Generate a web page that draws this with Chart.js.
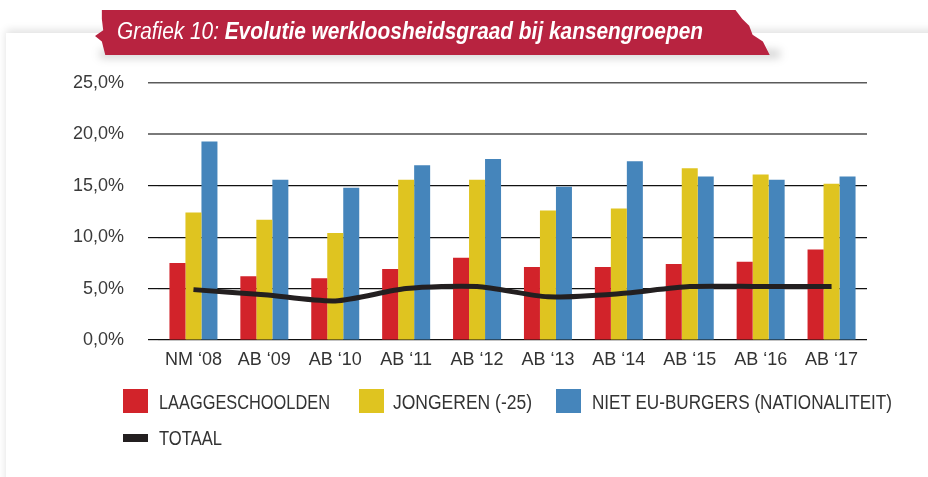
<!DOCTYPE html>
<html>
<head>
<meta charset="utf-8">
<script src="https://cdn.jsdelivr.net/npm/chart.js@4.4.1/dist/chart.umd.min.js"></script>
<style>
  html, body { margin: 0; padding: 0; }
  body { width: 928px; height: 477px; position: relative; overflow: hidden; background: #ffffff; font-family: 'Liberation Sans', Arial, sans-serif; }
  #card { position: absolute; left: 6px; top: 33px; width: 940px; height: 460px; background: #fff; box-shadow: 0 -3px 8px rgba(0,0,0,0.12); }
  #banner { position: absolute; left: 95px; top: 10px; width: 685px; height: 45px; background: #b82340;
    clip-path: polygon(1% 0%, 93.5% 0%, 94.5% 20%, 95.5% 35%, 96% 55%, 97.5% 70%, 98.5% 100%, 1.5% 100%, 1% 70%, 0% 58%, 1.2% 45%, 1% 20%); }
  #bannerShadow { position: absolute; left: 100px; top: 50px; width: 680px; height: 8px; background: rgba(0,0,0,0.18); filter: blur(4px); }
  #title { position: absolute; left: 117px; top: 17px; color: #fff; font-size: 23px; font-style: italic; white-space: nowrap; line-height: 28px; transform-origin: 0 50%; }
  #title .light { font-weight: normal; }
  #title .bold { font-weight: bold; }
  #chartWrap { position: absolute; left: 0; top: 0; width: 928px; height: 477px; }
  .lg { position: absolute; font-size: 20px; color: #333; white-space: nowrap; line-height: 24px; transform-origin: 0 50%; }
  .box { position: absolute; }
</style>
</head>
<body>
<div id="card"></div>
<div id="bannerShadow"></div>
<div id="banner"></div>
<div id="title"><span class="light">Grafiek 10: </span><span class="bold">Evolutie werkloosheidsgraad bij kansengroepen</span></div>
<div id="chartWrap"><canvas id="c" width="928" height="477"></canvas></div>

<div class="box" style="left:123px;top:389px;width:25px;height:24px;background:#d2232a"></div>
<div class="lg" data-w="171" style="left:159px;top:390px;">LAAGGESCHOOLDEN</div>
<div class="box" style="left:359px;top:389px;width:25px;height:24px;background:#dfc420"></div>
<div class="lg" data-w="139" style="left:393px;top:390px;">JONGEREN (-25)</div>
<div class="box" style="left:556px;top:389px;width:25px;height:24px;background:#4585bb"></div>
<div class="lg" data-w="300" style="left:592px;top:390px;">NIET EU-BURGERS (NATIONALITEIT)</div>
<div class="box" style="left:123px;top:434px;width:25px;height:8px;background:#231f20"></div>
<div class="lg" data-w="63" style="left:159px;top:426px;">TOTAAL</div>

<script>
const categories = ["NM \u201808", "AB \u201809", "AB \u201810", "AB \u201811", "AB \u201812", "AB \u201813", "AB \u201814", "AB \u201815", "AB \u201816", "AB \u201817"];
const laaggeschoolden = [7.5, 6.2, 6.0, 6.9, 8.0, 7.1, 7.1, 7.4, 7.6, 8.8];
const jongeren = [12.4, 11.7, 10.4, 15.6, 15.6, 12.6, 12.8, 16.7, 16.1, 15.2];
const nietEU = [19.3, 15.6, 14.8, 17.0, 17.6, 14.9, 17.4, 15.9, 15.6, 15.9];
const totaal = [4.9, 4.4, 3.8, 5.0, 5.2, 4.2, 4.5, 5.2, 5.2, 5.2];
const yTicks = [0, 5, 10, 15, 20, 25];

// fit title and legend texts to their widths in the reference
const t = document.getElementById('title');
t.style.transform = 'scaleX(' + (586 / t.getBoundingClientRect().width) + ')';
document.querySelectorAll('.lg').forEach(el => {
  const w = el.getBoundingClientRect().width;
  el.style.transform = 'scaleX(' + (parseFloat(el.dataset.w) / w) + ')';
});

const ctx = document.getElementById('c').getContext('2d');
new Chart(ctx, {
  data: {
    labels: categories,
    datasets: [
      { type: 'line', label: 'TOTAAL', data: totaal, borderColor: '#231f20', borderWidth: 5, pointRadius: 0, tension: 0.25, order: 0, fill: false },
      { type: 'bar', label: 'LAAGGESCHOOLDEN', data: laaggeschoolden, backgroundColor: '#d2232a', order: 1 },
      { type: 'bar', label: 'JONGEREN (-25)', data: jongeren, backgroundColor: '#dfc420', order: 1 },
      { type: 'bar', label: 'NIET EU-BURGERS (NATIONALITEIT)', data: nietEU, backgroundColor: '#4585bb', order: 1 }
    ]
  },
  options: {
    responsive: false,
    animation: false,
    layout: { padding: { left: 0, right: 61, top: 83, bottom: 0 } },
    datasets: { bar: { categoryPercentage: 0.677, barPercentage: 1.0 } },
    plugins: { legend: { display: false }, tooltip: { enabled: false }, title: { display: false } },
    scales: {
      x: {
        grid: { display: false, drawTicks: false },
        border: { display: false },
        ticks: { font: { family: "'Liberation Sans', Arial, sans-serif", size: 18 }, color: '#333', padding: 9, maxRotation: 0, autoSkip: false },
        afterFit: s => { s.height = 137; }
      },
      y: {
        min: 0, max: 25,
        afterBuildTicks: s => { s.ticks = yTicks.map(v => ({ value: v })); },
        grid: {
          drawTicks: true, tickLength: 10,
          color: c => c.tick && c.tick.value === 25 ? '#5a5a5a' : (c.tick && c.tick.value === 20 ? '#7a7a7a' : '#111'),
          lineWidth: c => c.tick && c.tick.value === 20 ? 2 : (c.tick && c.tick.value === 25 ? 1.5 : 1.2)
        },
        border: { display: false },
        ticks: {
          font: { family: "'Liberation Sans', Arial, sans-serif", size: 18 }, color: '#3a3a3a', padding: 24,
          callback: v => v.toFixed(1).replace('.', ',') + '%'
        },
        afterFit: s => { s.width = 158; }
      }
    }
  }
});
</script>
</body>
</html>
